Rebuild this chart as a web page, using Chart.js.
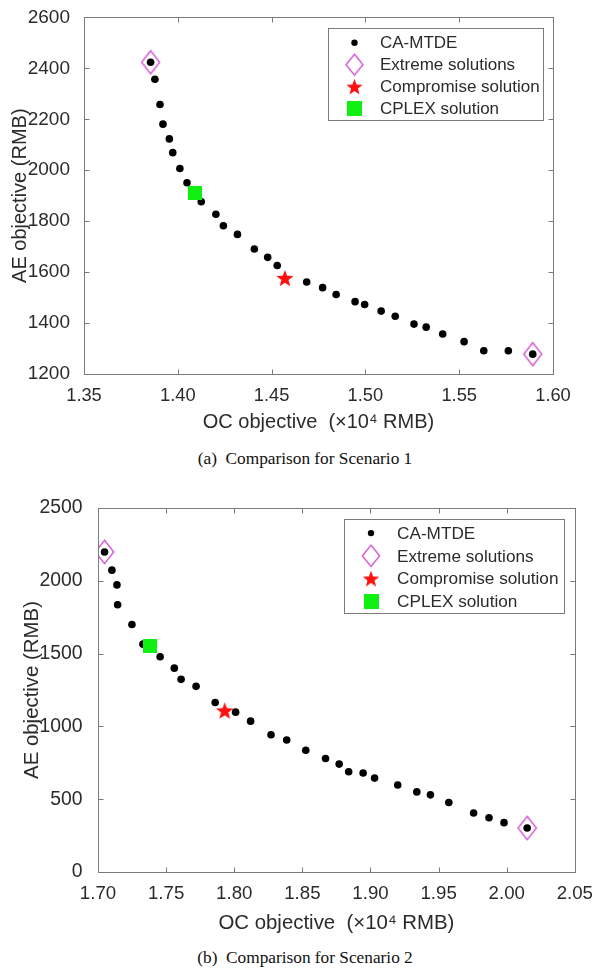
<!DOCTYPE html>
<html><head><meta charset="utf-8">
<script src="https://cdn.jsdelivr.net/npm/chart.js@4.4.0/dist/chart.umd.min.js"></script>
<style>
body{margin:0;background:#fff;width:596px;height:972px;position:relative;overflow:hidden}
.wrap{position:absolute;left:0;width:596px}
.wrap canvas{display:block}
.cap{position:absolute;left:0;width:610px;text-align:center;font-family:"Liberation Serif","Times New Roman",serif;font-size:17.3px;color:#111;line-height:20px;white-space:pre}
</style></head><body>
<div class="wrap" style="top:0;height:440px"><canvas id="c1" width="596" height="440"></canvas></div>
<div class="cap" style="top:449px">(a)  Comparison for Scenario 1</div>
<div class="wrap" style="top:480px;height:460px"><canvas id="c2" width="596" height="460"></canvas></div>
<div class="cap" style="top:948px">(b)  Comparison for Scenario 2</div>
<script>
// ---------- Data: Scenario 1 ----------
const s1OC = [1.3855,1.3878,1.3905,1.3921,1.3955,1.3973,1.4011,1.4049,1.4125,1.4203,1.4243,1.4318,1.4408,1.4479,1.4530,1.4687,1.4772,1.4844,1.4945,1.4996,1.5084,1.5159,1.5259,1.5324,1.5412,1.5526,1.5631,1.5762,1.5892];
const s1AE = [2424,2357,2258,2181,2123,2069,2007,1951,1876,1827,1782,1748,1691,1658,1626,1561,1539,1512,1484,1473,1447,1427,1396,1384,1357,1327,1291,1291,1278];
const s1ExtremeOC = [1.3855,1.5892];
const s1ExtremeAE = [2424,1278];
const s1CompOC = [1.4571];
const s1CompAE = [1577];
const s1CplexOC = [1.4091];
const s1CplexAE = [1911];
const s1XTicks = [1.35,1.40,1.45,1.50,1.55,1.60];
const s1YTicks = [1200,1400,1600,1800,2000,2200,2400,2600];

// ---------- Data: Scenario 2 ----------
const s2OC = [1.7048,1.7102,1.7139,1.7144,1.7249,1.7330,1.7456,1.7560,1.7610,1.7720,1.7860,1.8010,1.8120,1.8270,1.8385,1.8525,1.8670,1.8770,1.8840,1.8946,1.9030,1.9200,1.9340,1.9440,1.9575,1.9757,1.9870,1.9980,2.0150];
const s2AE = [2198,2073,1972,1835,1700,1565,1478,1400,1323,1275,1164,1098,1036,943,907,836,780,741,689,680,645,598,550,530,477,405,373,339,302];
const s2ExtremeOC = [1.7048,2.0150];
const s2ExtremeAE = [2198,302];
const s2CompOC = [1.793];
const s2CompAE = [1109];
const s2CplexOC = [1.7383];
const s2CplexAE = [1553];
const s2XTicks = [1.70,1.75,1.80,1.85,1.90,1.95,2.00,2.05];
const s2YTicks = [0,500,1000,1500,2000,2500];

const seriesLabels = ['CA-MTDE','Extreme solutions','Compromise solution','CPLEX solution'];

const FONT = '"Liberation Sans", Arial, Helvetica, sans-serif';
const TXT = '#2b2b2b';
const AX = '#7a7a7a';
Chart.defaults.font.family = FONT;

function diamondCanvas(w, h, color, lw) {
  const c = document.createElement('canvas');
  c.width = Math.ceil(w + 4); c.height = Math.ceil(h + 4);
  const g = c.getContext('2d');
  const cx = c.width / 2, cy = c.height / 2;
  g.strokeStyle = color; g.lineWidth = lw;
  g.beginPath();
  g.moveTo(cx, cy - h / 2); g.lineTo(cx + w / 2, cy); g.lineTo(cx, cy + h / 2); g.lineTo(cx - w / 2, cy);
  g.closePath(); g.stroke();
  return c;
}
function starCanvas(R, color) {
  const r = R * 0.42;
  const c = document.createElement('canvas');
  c.width = Math.ceil(2 * R + 4); c.height = Math.ceil(2 * R + 4);
  const g = c.getContext('2d');
  const cx = c.width / 2, cy = c.height / 2 + R * 0.1;
  g.fillStyle = color;
  g.beginPath();
  for (let i = 0; i < 10; i++) {
    const rad = (i % 2 === 0) ? R : r;
    const a = -Math.PI / 2 + i * Math.PI / 5;
    const px = cx + rad * Math.cos(a), py = cy + rad * Math.sin(a);
    if (i === 0) g.moveTo(px, py); else g.lineTo(px, py);
  }
  g.closePath(); g.fill();
  return c;
}
function squareCanvas(s, color) {
  const c = document.createElement('canvas');
  c.width = Math.ceil(s); c.height = Math.ceil(s);
  const g = c.getContext('2d');
  g.fillStyle = color; g.fillRect(0, 0, s, s);
  return c;
}

const framePlugin = {
  id: 'frame',
  afterDraw(chart) {
    const ctx = chart.ctx, a = chart.chartArea;
    const xs = chart.scales.x, ys = chart.scales.y;
    const L = Math.round(a.left) + 0.5, R = Math.round(a.right) + 0.5;
    const T = Math.round(a.top) + 0.5, B = Math.round(a.bottom) + 0.5;
    const tl = 5;
    ctx.save();
    ctx.strokeStyle = AX; ctx.lineWidth = 1;
    ctx.strokeRect(L, T, R - L, B - T);
    ctx.beginPath();
    xs.ticks.forEach(t => {
      const px = Math.round(xs.getPixelForValue(t.value)) + 0.5;
      ctx.moveTo(px, B); ctx.lineTo(px, B - tl);
      ctx.moveTo(px, T); ctx.lineTo(px, T + tl);
    });
    ys.ticks.forEach(t => {
      const py = Math.round(ys.getPixelForValue(t.value)) + 0.5;
      ctx.moveTo(L, py); ctx.lineTo(L + tl, py);
      ctx.moveTo(R, py); ctx.lineTo(R - tl, py);
    });
    ctx.stroke();

    // legend box
    const o = chart.options.plugins.boxLegend;
    const bx = Math.round(a.right - o.offsetRight - o.width) + 0.5;
    const by = Math.round(a.top + o.offsetTop) + 0.5;
    ctx.fillStyle = '#fff';
    ctx.fillRect(bx, by, o.width, o.height);
    ctx.strokeStyle = AX;
    ctx.strokeRect(bx, by, o.width, o.height);
    ctx.font = o.fontSize + 'px ' + FONT;
    ctx.textBaseline = 'middle';
    ctx.textAlign = 'left';
    chart.data.datasets.forEach((ds, i) => {
      const yy = by + o.rowTop + i * o.rowGap;
      const mx = bx + o.markerX;
      if (ds.legendMarker) {
        const m = ds.legendMarker;
        ctx.drawImage(m, mx - m.width / 2, yy - m.height / 2);
      } else {
        ctx.fillStyle = '#000';
        ctx.beginPath(); ctx.arc(mx, yy, 3.2, 0, Math.PI * 2); ctx.fill();
      }
      ctx.fillStyle = TXT;
      ctx.fillText(ds.label, bx + o.textX, yy + 1);
    });
    ctx.restore();
  }
};

function pts(xs, ys) { return xs.map((x, i) => ({ x: x, y: ys[i] })); }

function buildChart(id, p) {
  const k = p.k;
  const diamond = diamondCanvas(18 * k, 23 * k, '#d455d4', 1.4);
  const star = starCanvas(9 * k, '#ff1010');
  const square = squareCanvas(Math.round(14 * k), '#10f010');
  const lDiamond = diamondCanvas(17 * k, 21 * k, '#d455d4', 1.4);
  const lStar = starCanvas(8.5 * k, '#ff1010');
  const lSquare = squareCanvas(Math.round(15 * k), '#10f010');
  return new Chart(document.getElementById(id), {
    type: 'scatter',
    data: {
      datasets: [
        { label: seriesLabels[0], data: pts(p.oc, p.ae), pointStyle: 'circle', pointRadius: 3.8, backgroundColor: '#000', borderWidth: 0, order: 4 },
        { label: seriesLabels[1], data: pts(p.eOC, p.eAE), pointStyle: diamond, pointRadius: 10, order: 3, legendMarker: lDiamond },
        { label: seriesLabels[2], data: pts(p.cOC, p.cAE), pointStyle: star, pointRadius: 10, order: 2, legendMarker: lStar },
        { label: seriesLabels[3], data: pts(p.pOC, p.pAE), pointStyle: square, pointRadius: 10, order: 1, legendMarker: lSquare }
      ]
    },
    options: {
      responsive: false,
      maintainAspectRatio: false,
      animation: false,
      events: [],
      layout: { padding: { top: p.padTop, right: p.padRight, left: 0, bottom: 0 } },
      plugins: {
        legend: { display: false },
        tooltip: { enabled: false },
        boxLegend: p.legend
      },
      scales: {
        x: {
          type: 'linear', min: p.xTicks[0], max: p.xTicks[p.xTicks.length - 1],
          afterBuildTicks: s => { s.ticks = p.xTicks.map(v => ({ value: v })); },
          afterFit: s => { s.height = p.xAxisH; },
          ticks: { callback: v => Number(v).toFixed(2), font: { size: 18.3 * k }, color: TXT, padding: p.xPad, maxRotation: 0, autoSkip: false },
          grid: { display: false }, border: { display: false },
          title: { display: true, text: 'OC objective  (\u00d710\u2074 RMB)', font: { size: 20 * k }, color: TXT, padding: { top: 0, bottom: p.xTitlePad } }
        },
        y: {
          type: 'linear', min: p.yTicks[0], max: p.yTicks[p.yTicks.length - 1],
          afterBuildTicks: s => { s.ticks = p.yTicks.map(v => ({ value: v })); },
          afterFit: s => { s.width = p.yAxisW; },
          ticks: { callback: v => String(v), font: { size: 19 * k }, color: TXT, padding: p.yPad, autoSkip: false },
          grid: { display: false }, border: { display: false },
          title: { display: true, text: 'AE objective (RMB)', font: { size: 20 * k }, color: TXT, padding: { top: p.yTitlePad, bottom: 0 } }
        }
      }
    },
    plugins: [framePlugin]
  });
}

buildChart('c1', {
  k: 1, oc: s1OC, ae: s1AE, eOC: s1ExtremeOC, eAE: s1ExtremeAE, cOC: s1CompOC, cAE: s1CompAE, pOC: s1CplexOC, pAE: s1CplexAE,
  xTicks: s1XTicks, yTicks: s1YTicks, padTop: 13, padRight: 43, xAxisH: 66, yAxisW: 84, yPad: 6, yTitlePad: 8, xPad: 2.5, xTitlePad: 6,
  legend: { width: 215, height: 92, offsetRight: 10.5, offsetTop: 11, rowTop: 14.3, rowGap: 21.9, markerX: 26, textX: 51.5, fontSize: 17 }
});
buildChart('c2', {
  k: 1.02, oc: s2OC, ae: s2AE, eOC: s2ExtremeOC, eAE: s2ExtremeAE, cOC: s2CompOC, cAE: s2CompAE, pOC: s2CplexOC, pAE: s2CplexAE,
  xTicks: s2XTicks, yTicks: s2YTicks, padTop: 28, padRight: 20, xAxisH: 68, yAxisW: 98, yPad: 7.5, yTitlePad: 20, xPad: 3, xTitlePad: 4,
  legend: { width: 220, height: 94, offsetRight: 10.5, offsetTop: 10.5, rowTop: 13.6, rowGap: 22.7, markerX: 26.5, textX: 52.5, fontSize: 17.2 }
});
</script>
</body></html>
